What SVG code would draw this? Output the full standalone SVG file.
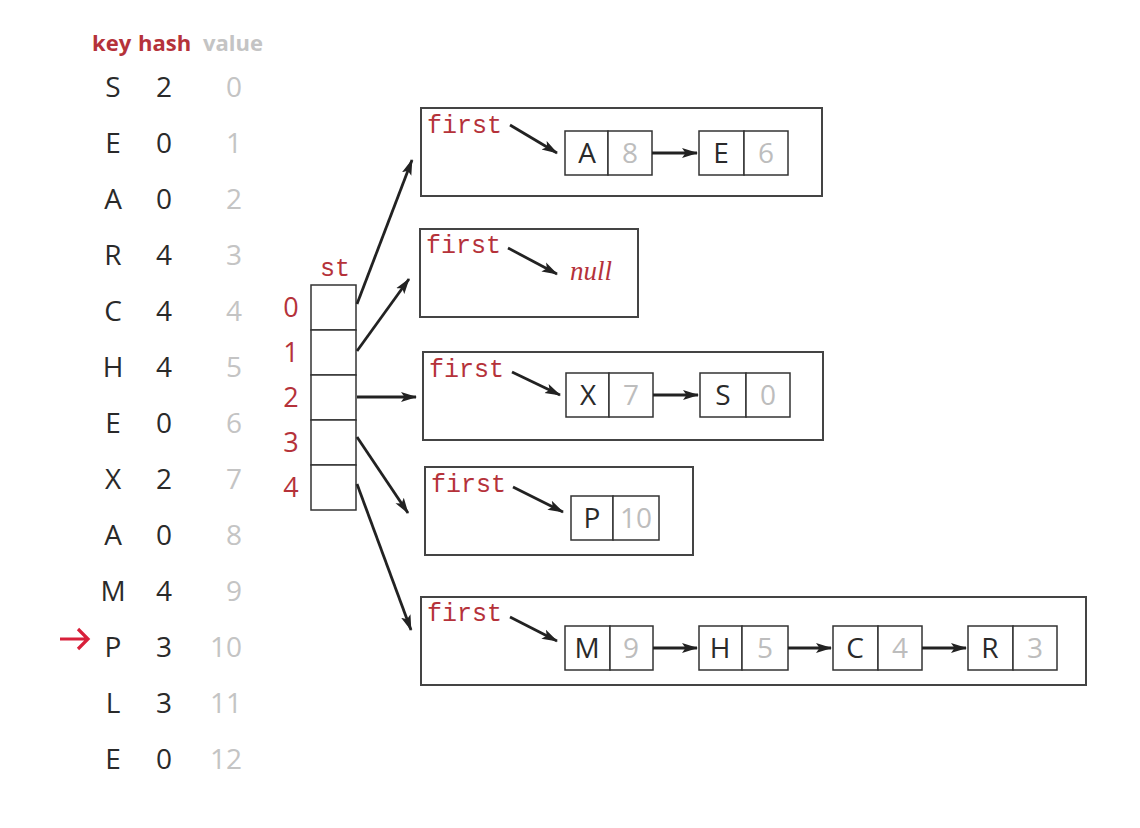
<svg xmlns="http://www.w3.org/2000/svg" width="1140" height="828" viewBox="0 0 1140 828">
<style>
.hdr{font-family:"Open Sans","DejaVu Sans",sans-serif;font-weight:bold;font-size:22px}
.red{fill:#b5323a}
.gray{fill:#c4c4c4}
.tk{font-family:"Open Sans","DejaVu Sans",sans-serif;font-size:28px;fill:#2a2a2a;text-anchor:middle}
.tv{font-family:"Open Sans","DejaVu Sans",sans-serif;font-size:28px;fill:#c4c4c4;text-anchor:end}
.idx{font-family:"Open Sans","DejaVu Sans",sans-serif;font-size:27px;fill:#b5323a;text-anchor:middle}
.mono{font-family:"Liberation Mono","DejaVu Sans Mono",monospace;font-size:25px;fill:#b5323a}
.box{fill:#fff;stroke:#444;stroke-width:2}
.cell{fill:#fff;stroke:#333;stroke-width:1.5}
.nk{font-family:"Open Sans","DejaVu Sans",sans-serif;font-size:28px;fill:#2a2a2a;text-anchor:middle}
.nv{font-family:"Open Sans","DejaVu Sans",sans-serif;font-size:28px;fill:#bdbdbd;text-anchor:middle}
.arr{stroke:#222;stroke-width:2.8;fill:none;marker-end:url(#ah)}
.null{font-family:"Liberation Serif",serif;font-style:italic;font-size:27px;fill:#b5323a}
</style>
<defs>
<marker id="ah" markerUnits="userSpaceOnUse" markerWidth="16" markerHeight="12" refX="15" refY="6" orient="auto">
<path d="M0,1 L16,6 L0,11 L3.5,6 Z" fill="#222"/>
</marker>
</defs>
<rect width="1140" height="828" fill="#fff"/>

<g id="table">
<text class="hdr red" x="92" y="51">key</text>
<text class="hdr red" x="138" y="51">hash</text>
<text class="hdr gray" x="203" y="51">value</text>
<g>
<text class="tk" x="113" y="97">S</text><text class="tk" x="164" y="97">2</text><text class="tv" x="242" y="97">0</text>
<text class="tk" x="113" y="153">E</text><text class="tk" x="164" y="153">0</text><text class="tv" x="242" y="153">1</text>
<text class="tk" x="113" y="209">A</text><text class="tk" x="164" y="209">0</text><text class="tv" x="242" y="209">2</text>
<text class="tk" x="113" y="265">R</text><text class="tk" x="164" y="265">4</text><text class="tv" x="242" y="265">3</text>
<text class="tk" x="113" y="321">C</text><text class="tk" x="164" y="321">4</text><text class="tv" x="242" y="321">4</text>
<text class="tk" x="113" y="377">H</text><text class="tk" x="164" y="377">4</text><text class="tv" x="242" y="377">5</text>
<text class="tk" x="113" y="433">E</text><text class="tk" x="164" y="433">0</text><text class="tv" x="242" y="433">6</text>
<text class="tk" x="113" y="489">X</text><text class="tk" x="164" y="489">2</text><text class="tv" x="242" y="489">7</text>
<text class="tk" x="113" y="545">A</text><text class="tk" x="164" y="545">0</text><text class="tv" x="242" y="545">8</text>
<text class="tk" x="113" y="601">M</text><text class="tk" x="164" y="601">4</text><text class="tv" x="242" y="601">9</text>
<text class="tk" x="113" y="657">P</text><text class="tk" x="164" y="657">3</text><text class="tv" x="242" y="657">10</text>
<text class="tk" x="113" y="713">L</text><text class="tk" x="164" y="713">3</text><text class="tv" x="242" y="713">11</text>
<text class="tk" x="113" y="769">E</text><text class="tk" x="164" y="769">0</text><text class="tv" x="242" y="769">12</text>
</g>
<path d="M60,639 H87 M78,629 L88,639 L78,649" stroke="#d8203a" stroke-width="3.2" fill="none"/>
</g>

<g id="st">
<text class="mono" x="320" y="276">st</text>
<rect class="cell" x="311" y="285" width="45" height="45"/>
<rect class="cell" x="311" y="330" width="45" height="45"/>
<rect class="cell" x="311" y="375" width="45" height="45"/>
<rect class="cell" x="311" y="420" width="45" height="45"/>
<rect class="cell" x="311" y="465" width="45" height="45"/>
<text class="idx" x="291" y="317">0</text>
<text class="idx" x="291" y="362">1</text>
<text class="idx" x="291" y="407">2</text>
<text class="idx" x="291" y="452">3</text>
<text class="idx" x="291" y="497">4</text>
</g>

<g id="list0">
<rect class="box" x="421" y="108" width="401" height="88"/>
<text class="mono" x="427" y="133">first</text>
<rect class="cell" x="565" y="131" width="43" height="44"/><rect class="cell" x="608" y="131" width="44" height="44"/>
<text class="nk" x="587" y="163">A</text><text class="nv" x="630" y="163">8</text>
<rect class="cell" x="699" y="131" width="45" height="44"/><rect class="cell" x="744" y="131" width="44" height="44"/>
<text class="nk" x="721" y="163">E</text><text class="nv" x="766" y="163">6</text>
</g>

<g id="list1">
<rect class="box" x="420" y="229" width="218" height="88"/>
<text class="mono" x="426" y="253">first</text>
<text class="null" x="570" y="280">null</text>
</g>

<g id="list2">
<rect class="box" x="423" y="352" width="400" height="88"/>
<text class="mono" x="429" y="377">first</text>
<rect class="cell" x="566" y="373" width="43" height="44"/><rect class="cell" x="609" y="373" width="44" height="44"/>
<text class="nk" x="588" y="405">X</text><text class="nv" x="631" y="405">7</text>
<rect class="cell" x="700" y="373" width="46" height="44"/><rect class="cell" x="746" y="373" width="44" height="44"/>
<text class="nk" x="723" y="405">S</text><text class="nv" x="768" y="405">0</text>
</g>

<g id="list3">
<rect class="box" x="425" y="467" width="268" height="88"/>
<text class="mono" x="431" y="492">first</text>
<rect class="cell" x="571" y="496" width="42" height="44"/><rect class="cell" x="613" y="496" width="46" height="44"/>
<text class="nk" x="592" y="528">P</text><text class="nv" x="636" y="528">10</text>
</g>

<g id="list4">
<rect class="box" x="421" y="597" width="665" height="88"/>
<text class="mono" x="427" y="621">first</text>
<rect class="cell" x="565" y="626" width="45" height="44"/><rect class="cell" x="610" y="626" width="43" height="44"/>
<text class="nk" x="587" y="658">M</text><text class="nv" x="631" y="658">9</text>
<rect class="cell" x="699" y="626" width="43" height="44"/><rect class="cell" x="742" y="626" width="46" height="44"/>
<text class="nk" x="720" y="658">H</text><text class="nv" x="765" y="658">5</text>
<rect class="cell" x="833" y="626" width="45" height="44"/><rect class="cell" x="878" y="626" width="44" height="44"/>
<text class="nk" x="855" y="658">C</text><text class="nv" x="900" y="658">4</text>
<rect class="cell" x="968" y="626" width="45" height="44"/><rect class="cell" x="1013" y="626" width="44" height="44"/>
<text class="nk" x="990" y="658">R</text><text class="nv" x="1035" y="658">3</text>
</g>

<g id="connectors">
<line class="arr" x1="357" y1="304" x2="412" y2="160"/>
<line class="arr" x1="357" y1="351" x2="409" y2="279"/>
<line class="arr" x1="357" y1="397" x2="416" y2="397"/>
<line class="arr" x1="357" y1="437" x2="408" y2="513"/>
<line class="arr" x1="357" y1="484" x2="411" y2="630"/>
<line class="arr" x1="510" y1="125" x2="557" y2="153"/>
<line class="arr" x1="652" y1="153" x2="697" y2="153"/>
<line class="arr" x1="508" y1="248" x2="557" y2="274"/>
<line class="arr" x1="512" y1="372" x2="560" y2="395"/>
<line class="arr" x1="653" y1="395" x2="698" y2="395"/>
<line class="arr" x1="513" y1="487" x2="563" y2="512"/>
<line class="arr" x1="510" y1="617" x2="557" y2="641"/>
<line class="arr" x1="653" y1="648" x2="697" y2="648"/>
<line class="arr" x1="788" y1="648" x2="831" y2="648"/>
<line class="arr" x1="922" y1="648" x2="966" y2="648"/>
</g>
</svg>
